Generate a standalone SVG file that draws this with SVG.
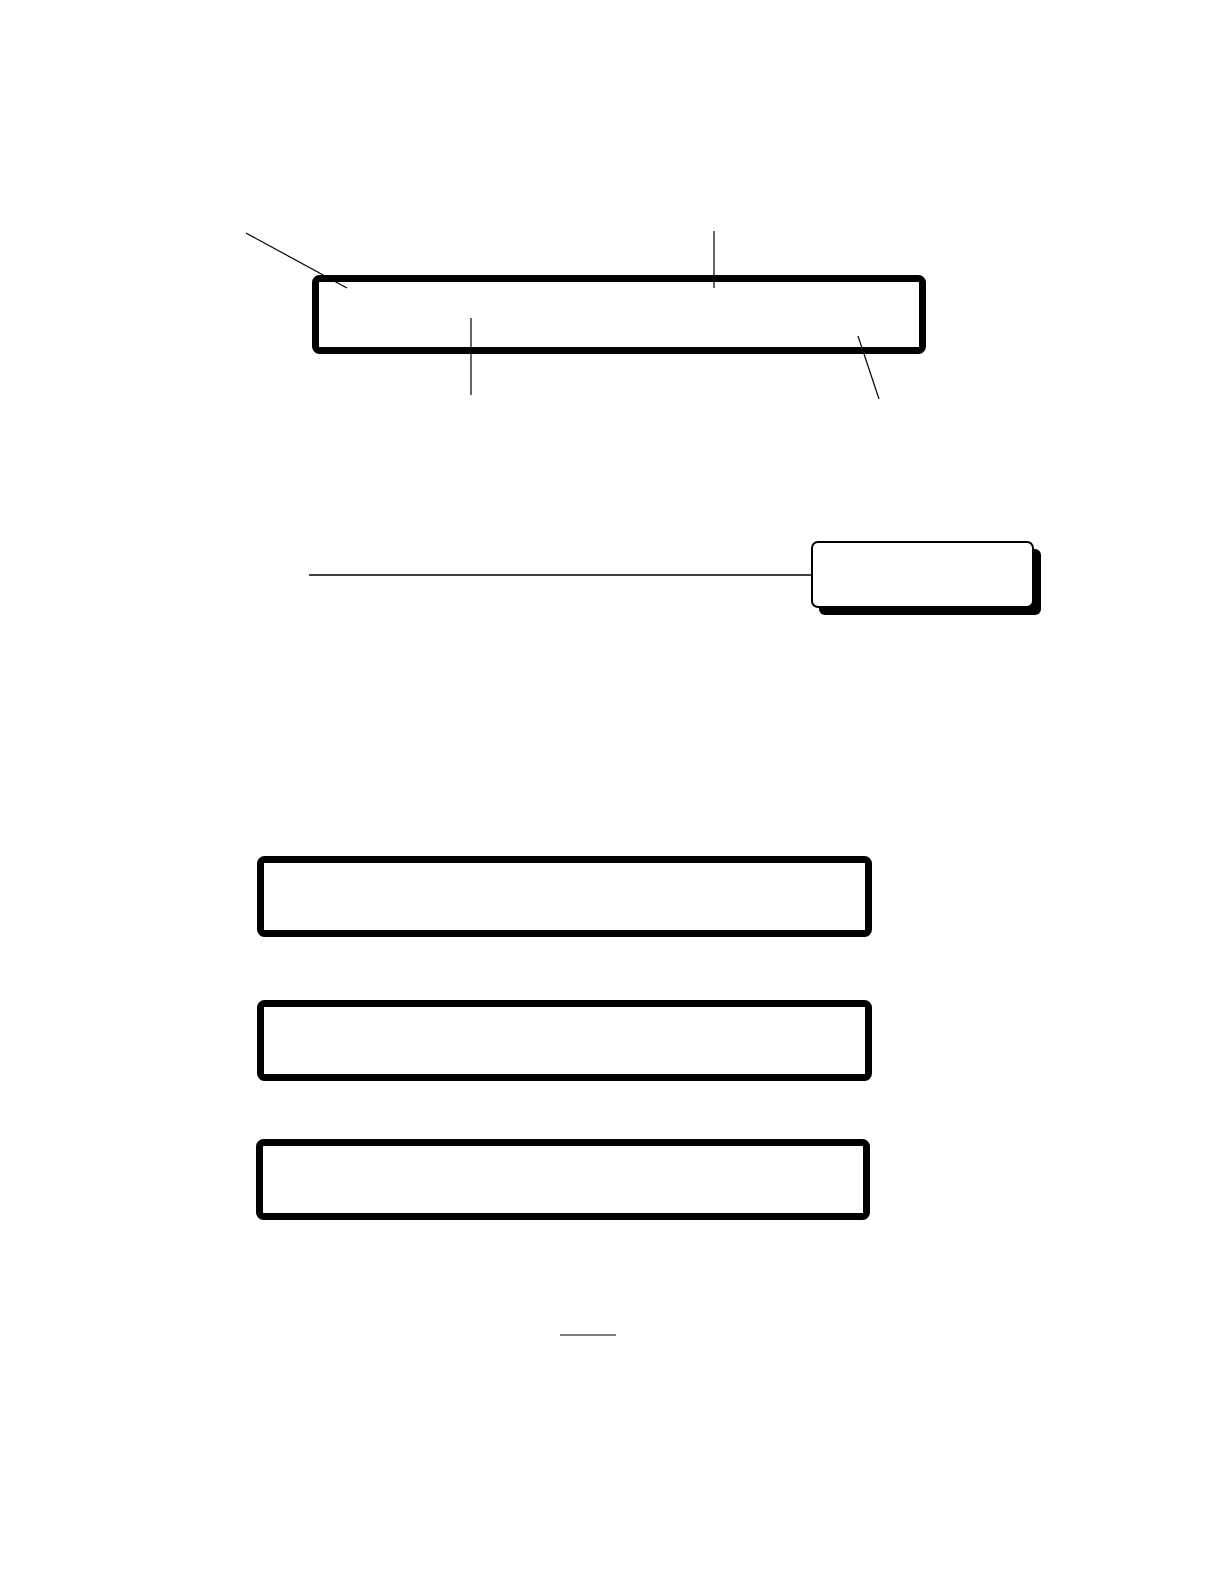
<svg xmlns="http://www.w3.org/2000/svg" width="1224" height="1584" viewBox="0 0 1224 1584">
<style>
.thick{fill:#fff;stroke:#000;stroke-width:7;}
.ln{stroke:#000;stroke-width:1.2;fill:none;}
</style>
<rect width="1224" height="1584" fill="#fff"/>
<g id="node-top">
<rect class="thick" x="315.5" y="278.5" width="607" height="72" rx="4"/>
</g>
<g id="node-shadow">
<rect x="819" y="549" width="222" height="66" rx="6" fill="#000"/>
<rect x="812" y="542" width="221" height="65" rx="6" fill="#fff" stroke="#000" stroke-width="2"/>
</g>
<g id="node-a">
<rect class="thick" x="260.5" y="859.5" width="608" height="74" rx="4"/>
</g>
<g id="node-b">
<rect class="thick" x="260.5" y="1003.5" width="608" height="74" rx="4"/>
</g>
<g id="node-c">
<rect class="thick" x="259.5" y="1142.5" width="607" height="74" rx="4"/>
</g>
<g id="connectors">
<line class="ln" x1="246" y1="233" x2="347" y2="288"/>
<line class="ln" x1="714" y1="231" x2="714" y2="288"/>
<line class="ln" x1="471" y1="318" x2="471" y2="395"/>
<line class="ln" x1="858" y1="336" x2="879" y2="399"/>
<line class="ln" x1="309" y1="575" x2="811" y2="575" style="stroke-width:1.6"/>
<line class="ln" x1="560" y1="1335" x2="616" y2="1335"/>
</g>
</svg>
